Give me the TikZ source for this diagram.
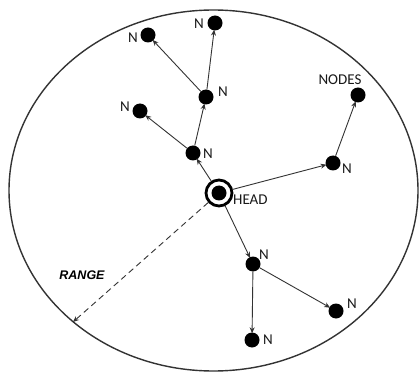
\documentclass[tikz,border=0pt]{standalone}
\usepackage{fontspec}
\setmainfont{Carlito}
\newfontfamily\rangefont{Liberation Sans}
\usetikzlibrary{arrows.meta}
\begin{document}
\begin{tikzpicture}[x=1pt,y=-1pt,
  dot/.style={circle,fill=black,inner sep=0pt,minimum size=15pt},
  lbl/.style={font=\fontsize{15}{15}\selectfont,text=black!90,inner sep=0pt},
  link/.style={draw=black!80,line width=0.9pt,-{Stealth[length=6pt,width=5pt]},shorten >=-1pt}
]
\useasboundingbox (0,0) rectangle (420,374);
\fill[white] (0,0) rectangle (420,374);
\draw[black!80,line width=1.4pt] (213.5,190.5) ellipse [x radius=204.5pt, y radius=180.5pt];

\node[dot] (head) at (219,193) {};
\node[circle,draw=black,line width=2.8pt,minimum size=26pt,inner sep=0pt] (ring) at (219,193) {};
\node[lbl,anchor=west] (headl) at (233,200) {HEAD};

\node[dot] (n1) at (193,153) {};
\node[dot] (n2) at (206,97) {};
\node[dot] (n3) at (148,35) {};
\node[dot] (n4) at (215,23) {};
\node[dot] (n5) at (140,111) {};
\node[dot] (n6) at (333,163) {};
\node[dot] (n10) at (358,95) {};
\node[dot] (n7) at (253,264) {};
\node[dot] (n8) at (336,311) {};
\node[dot] (n9) at (252,340) {};

\node[lbl] (l1) at (208,154) {N};
\node[lbl] (l2) at (223,92) {N};
\node[lbl] (l3) at (133,38) {N};
\node[lbl] (l4) at (199,24) {N};
\node[lbl] (l5) at (125,107) {N};
\node[lbl] (l6) at (347,169) {N};
\node[lbl] (l10) at (340,80) {NODES};
\node[lbl] (l7) at (264,255) {N};
\node[lbl] (l8) at (352,304) {N};
\node[lbl] (l9) at (268,340) {N};

\node[font=\rangefont\bfseries\itshape\fontsize{12.5}{12.5}\selectfont,inner sep=0pt] (range) at (82,275) {RANGE};
\coordinate (redge) at (73,322);

\draw[link] (ring) -- (n1);
\draw[link] (n1) -- (n2);
\draw[link] (n1) -- (n5);
\draw[link] (n2) -- (n3);
\draw[link] (n2) -- (n4);
\draw[link] (ring) -- (n6);
\draw[link] (n6) -- (n10);
\draw[link] (ring) -- (n7);
\draw[link] (n7) -- (n8);
\draw[link] (n7) -- (n9);
\draw[link,dash pattern=on 6pt off 4pt,shorten >=0pt] (ring) -- (redge);
\end{tikzpicture}
\end{document}
